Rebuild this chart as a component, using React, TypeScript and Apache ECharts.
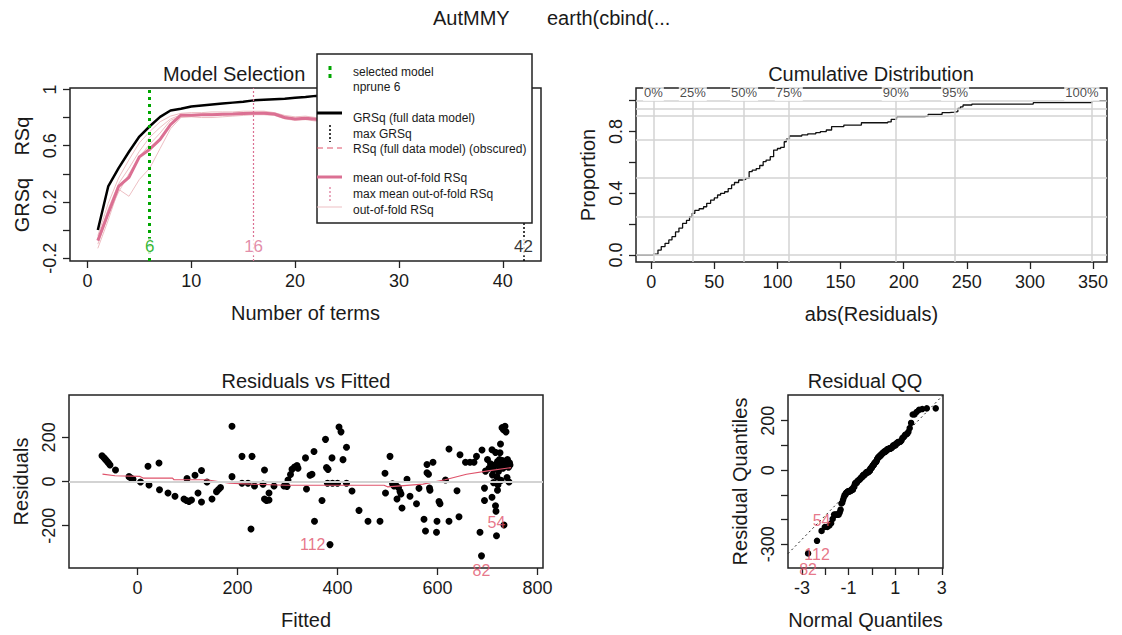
import React, { useEffect, useRef } from 'react';
import * as echarts from 'echarts';

// ---------- Panel 1: Model Selection ----------
const nTerms = [1,2,3,4,5,6,7,8,9,10,11,12,13,14,15,16,17,18,19,20,21,22,23,24,25,26,27,28,29,30,31,32,33,34,35,36,37,38,39,40,41,42];
const grsq = [0.0,0.31,0.44,0.557,0.665,0.738,0.805,0.85,0.862,0.878,0.885,0.892,0.899,0.906,0.913,0.922,0.926,0.93,0.934,0.94,0.946,0.954,0.957,0.959,0.961,0.962,0.963,0.964,0.965,0.966,0.967,0.968,0.969,0.97,0.971,0.972,0.973,0.974,0.975,0.976,0.977,0.978];
const meanOofRsq = [-0.075,0.12,0.31,0.375,0.52,0.575,0.645,0.75,0.817,0.817,0.82,0.82,0.823,0.825,0.828,0.83,0.83,0.825,0.8,0.79,0.795,0.787,0.785,0.782,0.78,0.778,0.776,0.775,0.773,0.772,0.77,0.768,0.766,0.765,0.763,0.762,0.76,0.758,0.757,0.755,0.754,0.752];
const foldA = [-0.13,0.07,0.29,0.24,0.36,0.44,0.58,0.72,0.8,0.805,0.8,0.8,0.805,0.81,0.815,0.82,0.82,0.815,0.79,0.78,0.785,0.775,0.77,0.77];
const foldB = [-0.04,0.19,0.37,0.5,0.62,0.7,0.77,0.81,0.83,0.835,0.835,0.84,0.84,0.84,0.845,0.845,0.845,0.835,0.815,0.805,0.81,0.8,0.795,0.79];
const foldC = [-0.1,0.11,0.27,0.4,0.52,0.61,0.69,0.78,0.81,0.81,0.815,0.815,0.82,0.82,0.825,0.825,0.825,0.82,0.8,0.79,0.79,0.785,0.78,0.78];
const foldD = [-0.07,0.15,0.33,0.44,0.56,0.66,0.73,0.79,0.82,0.82,0.825,0.83,0.83,0.83,0.835,0.835,0.84,0.83,0.805,0.795,0.8,0.795,0.79,0.785];
const selectedTerms = 6;
const maxOofTerms = 16;
const maxGrsqTerms = 42;
const vLabelY = -0.12;

// ---------- Panel 2: Cumulative Distribution ----------
const cdfX = [1.8,5.4,8,11,14,16.5,19.3,22,24.9,28,30.4,32.5,34.6,38,41.5,44,47.1,50,52.6,55,58.2,61,63.7,66,69.3,72,74.9,77.6,80,83.2,86,88.7,91,94.3,97,100,102.6,105.4,107,109.5,119.3,124,130.4,134,138.7,142.9,152.6,166.5,187.4,190.1,194.3,216.5,219.3,230.4,236,240.2,242.9,245,247,254,302.6,349];
const cdfY = [0.006,0.032,0.055,0.076,0.098,0.119,0.15,0.175,0.205,0.225,0.248,0.27,0.29,0.3,0.313,0.335,0.356,0.37,0.389,0.4,0.41,0.43,0.454,0.47,0.486,0.49,0.497,0.54,0.55,0.56,0.58,0.605,0.615,0.637,0.68,0.69,0.698,0.734,0.75,0.771,0.778,0.785,0.793,0.8,0.81,0.832,0.842,0.857,0.862,0.879,0.896,0.9,0.911,0.922,0.926,0.929,0.95,0.96,0.972,0.978,0.987,1.0];
const qPct = ['0%','25%','50%','75%','90%','95%','100%'];
const qVal = [1.8,33,73.6,109,193.7,240.7,349];
const qProb = [0,0.25,0.5,0.75,0.9,0.95,1];
const cdfXMin = -12;
const cdfXMax = 361;
const qLabelY = 1.053;

// ---------- Panel 3: Residuals vs Fitted ----------
const fittedVals = [-71,-67,-64,-61,-58,-55,-44,-17,-13,-9,6,21,23,43,44,61,75,93,98,103,108,99,115,121,128,128,139,149,158,162,166,189,189,209,209,221,227,229,234,251,254,254,258,263,263,273,293,299,301,306,309,314,319,321,
336,338,345,349,353,354,369,376,378,381,380,390,400,385,389,403,407,411,418,418,429,443,461,485,495,496,505,510,513,516,519,522,525,527,529,539,545,558,563,573,576,579,579,582,584,585,591,599,598,603,605,616,623,623,639,643,645,656,665,673,678,
685,688,689,694,696,694,700,703,706,709,709,710,712,714,716,716,717,718,719,720,721,722,723,724,725,726,727,728,729,730,731,732,733,734,735,736,737,738,739,740,741,742,743,744,745,712,720];
const residVals = [117,108,100,92,84,75,52,22,16,10,-2,69,-16,84,-37,-52,-67,-79,-86,-90,-84,13,28,-52,50,-93,-2,-79,-46,-36,-27,250,22,114,-8,-8,-215,114,-20,-12,52,-79,-86,-84,-52,-20,-20,-22,7,32,55,66,72,60,
107,-34,28,33,136,-180,-86,191,63,55,-8,-8,-8,-286,107,247,225,99,155,-8,-43,-131,-180,-180,37,-52,114,-10,-20,-14,-79,-27,-45,-57,-120,10,-67,-101,-31,-171,-224,77,40,33,-30,-40,87,-180,-230,-91,-101,7,147,-180,-42,-160,121,87,87,87,114,
-230,-337,143,-30,47,-86,100,60,80,144,-71,30,-5,75,132,-110,-135,-246,20,90,-15,45,70,100,130,170,5,85,244,95,60,235,-197,75,250,90,225,70,18,100,80,65,-2,85,75,55,-40];
const smoothX = [-70,-45,5,12,70,73,138,184,227,299,493,500,571,615,658,701,747];
const smoothY = [33,26,23,15,15,8,8,-8,-12,-17,-17,-24,-12,8,33,48,63];
const labelIds = ['112','54','82'];
const labelFitted = [385,718,688];
const labelResid = [-286,-246,-337];

// ---------- Panel 4: Residual QQ ----------
const qqLineX = [-3.6,3.05];
const qqLineY = [-338,303];

const FONT = '"Liberation Sans", Arial, Helvetica, sans-serif';
const TXT = '#1a1a1a';
const GREEN = '#00A600';
const PVR = '#DB7093';
const RED = '#DF536B';
const FOLD = '#EDBFC3';

function qnorm(p: number): number {
  const a = [-3.969683028665376e+01,2.209460984245205e+02,-2.759285104469687e+02,1.383577518672690e+02,-3.066479806614716e+01,2.506628277459239e+00];
  const b = [-5.447609879822406e+01,1.615858368580409e+02,-1.556989798598866e+02,6.680131188771972e+01,-1.328068155288572e+01];
  const c = [-7.784894002430293e-03,-3.223964580411365e-01,-2.400758277161838e+00,-2.549732539343734e+00,4.374664141464968e+00,2.938163982698783e+00];
  const d = [7.784695709041462e-03,3.224671290700398e-01,2.445134137142996e+00,3.754408661907416e+00];
  const pl = 0.02425, ph = 1 - pl;
  if (p < pl) {
    const q = Math.sqrt(-2 * Math.log(p));
    return (((((c[0]*q+c[1])*q+c[2])*q+c[3])*q+c[4])*q+c[5]) / ((((d[0]*q+d[1])*q+d[2])*q+d[3])*q+1);
  }
  if (p <= ph) {
    const q = p - 0.5, r = q * q;
    return (((((a[0]*r+a[1])*r+a[2])*r+a[3])*r+a[4])*r+a[5])*q / (((((b[0]*r+b[1])*r+b[2])*r+b[3])*r+b[4])*r+1);
  }
  const q = Math.sqrt(-2 * Math.log(1 - p));
  return -(((((c[0]*q+c[1])*q+c[2])*q+c[3])*q+c[4])*q+c[5]) / ((((d[0]*q+d[1])*q+d[2])*q+d[3])*q+1);
}

function axis(grid: number, min: number, max: number, labels: number[], ticks: number[], name: string, gap: number, isY: boolean, fmt?: (v: number) => string) {
  return {
    type: 'value', gridIndex: grid, min, max, name, nameLocation: 'middle', nameGap: gap,
    nameTextStyle: { fontFamily: FONT, fontSize: 20, color: TXT },
    axisLine: { show: false, onZero: false },
    splitLine: { show: false },
    axisTick: { show: true, length: 7, customValues: ticks, lineStyle: { color: '#222', width: 1.3 } },
    axisLabel: {
      show: true, customValues: labels, margin: 11, fontFamily: FONT, fontSize: 18, color: TXT,
      rotate: isY ? 90 : 0, formatter: fmt ? fmt : (v: number) => String(v),
    },
  };
}

function labelSeries(idx: number, data: any[], color: string, fontSize: number, extra: any = {}) {
  return {
    type: 'scatter', xAxisIndex: idx, yAxisIndex: idx, symbol: 'circle', symbolSize: 1, silent: true, z: 5,
    itemStyle: { color: 'rgba(0,0,0,0)' },
    data,
    label: { show: true, position: 'inside', formatter: (p: any) => p.name, color, fontSize, fontFamily: FONT, ...extra },
  };
}

function gText(text: string, x: number, y: number, size: number, align = 'left', color = TXT) {
  return {
    type: 'text', z: 100,
    style: { text, x, y, fill: color, font: `${size}px ${FONT}`, textAlign: align, textVerticalAlign: 'middle', align, verticalAlign: 'middle' },
  };
}
function gLine(x1: number, y1: number, x2: number, y2: number, stroke: string, lineWidth: number, lineDash?: number[]) {
  return { type: 'line', z: 100, shape: { x1, y1, x2, y2 }, style: { stroke, lineWidth, lineDash: lineDash || null } };
}

function buildOption() {
  const sorted = [...residVals].sort((a, b) => a - b);
  const n = sorted.length;
  const qqData = sorted.map((r, i) => [qnorm((i + 0.5) / n), r]);
  const qqOf = (r: number) => qnorm((sorted.indexOf(r) + 0.5) / n);

  const foldSeries = [foldA, foldB, foldC, foldD].map((f) => ({
    type: 'line', xAxisIndex: 0, yAxisIndex: 0, symbol: 'none', silent: true, z: 2,
    data: f.map((v, i) => [nTerms[i], v]), lineStyle: { color: FOLD, width: 1 },
  }));

  const resPos = ['left', 'top', 'bottom'];
  const resDist = [4, 5, 6];
  const qqPos = ['bottom', 'top', 'bottom'];
  const qqDist = [5, 2, 8];

  const legendEls = [
    { type: 'rect', z: 100, shape: { x: 317, y: 54, width: 215, height: 169 }, style: { fill: '#fff', stroke: '#222', lineWidth: 1.5 } },
    gLine(330, 66, 330, 81, GREEN, 3, [4, 4]),
    gText('selected model', 353, 72, 12),
    gText('nprune 6', 353, 87, 12),
    gLine(317, 113, 342, 113, '#000', 3),
    gText('GRSq (full data model)', 353, 118, 12),
    gLine(330, 125, 330, 142, '#000', 1.5, [2, 2]),
    gText('max GRSq', 353, 134, 12),
    gLine(317, 148, 342, 148, RED, 1.2, [6, 4]),
    gText('RSq (full data model) (obscured)', 353, 149, 12),
    gLine(317, 177, 342, 177, PVR, 3),
    gText('mean out-of-fold RSq', 353, 178, 12),
    gLine(330, 187, 330, 203, PVR, 1.2, [2, 2]),
    gText('max mean out-of-fold RSq', 353, 194, 12),
    gLine(317, 207, 342, 207, FOLD, 1),
    gText('out-of-fold RSq', 353, 210, 12),
  ];

  return {
    animation: false,
    backgroundColor: '#fff',
    grid: [
      { left: 70, top: 88, width: 471, height: 173, show: true, borderColor: '#222', borderWidth: 1.5, backgroundColor: 'transparent' },
      { left: 636, top: 88, width: 471, height: 174, show: true, borderColor: '#222', borderWidth: 1.5, backgroundColor: 'transparent' },
      { left: 69, top: 395, width: 474, height: 173, show: true, borderColor: '#222', borderWidth: 1.5, backgroundColor: 'transparent' },
      { left: 788, top: 395, width: 155, height: 173, show: true, borderColor: '#222', borderWidth: 1.5, backgroundColor: 'transparent' },
    ],
    xAxis: [
      axis(0, -1.68, 43.68, [0, 10, 20, 30, 40], [0, 10, 20, 30, 40], 'Number of terms', 42, false),
      axis(1, cdfXMin, cdfXMax, [0, 50, 100, 150, 200, 250, 300, 350], [0, 50, 100, 150, 200, 250, 300, 350], 'abs(Residuals)', 42, false),
      axis(2, -137, 811, [0, 200, 400, 600, 800], [0, 200, 400, 600, 800], 'Fitted', 42, false),
      axis(3, -3.6, 3.05, [-3, -1, 1, 3], [-3, -2, -1, 0, 1, 2, 3], 'Normal Quantiles', 42, false),
    ],
    yAxis: [
      axis(0, -0.22, 1.01, [-0.2, 0.2, 0.6, 1], [-0.2, 0, 0.2, 0.4, 0.6, 0.8, 1], 'GRSq\u00A0\u00A0\u00A0\u00A0RSq', 38, true),
      axis(1, -0.045, 1.082, [0, 0.4, 0.8], [0, 0.2, 0.4, 0.6, 0.8, 1], 'Proportion', 38, true, (v: number) => v.toFixed(1)),
      axis(2, -392, 392, [-200, 0, 200], [-200, 0, 200], 'Residuals', 38, true),
      axis(3, -396, 304, [-300, 0, 200], [-300, -200, -100, 0, 100, 200], 'Residual Quantiles', 38, true),
    ],
    series: [
      ...foldSeries,
      {
        type: 'line', xAxisIndex: 0, yAxisIndex: 0, symbol: 'none', silent: true, z: 3,
        data: meanOofRsq.map((v, i) => [nTerms[i], v]), lineStyle: { color: PVR, width: 3 },
      },
      {
        type: 'line', xAxisIndex: 0, yAxisIndex: 0, symbol: 'none', silent: true, z: 3,
        data: grsq.map((v, i) => [nTerms[i], v]), lineStyle: { color: '#000', width: 2.5 },
      },
      {
        type: 'line', xAxisIndex: 0, yAxisIndex: 0, data: [], z: 4,
        markLine: {
          silent: true, symbol: ['none', 'none'], label: { show: false }, animation: false,
          data: [
            { xAxis: selectedTerms, lineStyle: { color: GREEN, width: 3, type: [3, 4] } },
            { xAxis: maxOofTerms, lineStyle: { color: PVR, width: 1.2, type: [2, 2] } },
            { xAxis: maxGrsqTerms, lineStyle: { color: '#000', width: 1.5, type: [2, 2] } },
          ],
        },
      },
      labelSeries(0, [
        { name: String(selectedTerms), value: [selectedTerms, vLabelY], label: { color: GREEN } },
        { name: String(maxOofTerms), value: [maxOofTerms, vLabelY], label: { color: PVR } },
        { name: String(maxGrsqTerms), value: [maxGrsqTerms, vLabelY], label: { color: '#000' } },
      ], TXT, 17, { backgroundColor: '#fff', padding: [0, 1] }),

      // Panel 2
      {
        type: 'line', xAxisIndex: 1, yAxisIndex: 1, data: [], z: 1,
        markLine: {
          silent: true, symbol: ['none', 'none'], label: { show: false }, animation: false,
          lineStyle: { color: '#D3D3D3', width: 1.5, type: 'solid' },
          data: [...qVal.map((v) => ({ xAxis: v })), ...qProb.map((v) => ({ yAxis: v }))],
        },
      },
      {
        type: 'line', xAxisIndex: 1, yAxisIndex: 1, symbol: 'none', step: 'end', silent: true, z: 3,
        data: [[cdfXMin, 0], ...cdfX.map((x, i) => [x, cdfY[i]]), [cdfXMax, 1]],
        lineStyle: { color: '#111', width: 1.3 },
      },
      labelSeries(1, qPct.map((p, i) => ({
        name: p, value: [qVal[i], qLabelY],
        label: i === qPct.length - 1 ? { offset: [-10, 0] } : {},
      })), TXT, 13, { backgroundColor: '#fff', padding: [6, 1, 0, 1], lineHeight: 11 }),

      // Panel 3
      {
        type: 'line', xAxisIndex: 2, yAxisIndex: 2, data: [], z: 1,
        markLine: {
          silent: true, symbol: ['none', 'none'], label: { show: false }, animation: false,
          lineStyle: { color: '#D3D3D3', width: 2, type: 'solid' },
          data: [{ yAxis: 0 }],
        },
      },
      {
        type: 'scatter', xAxisIndex: 2, yAxisIndex: 2, symbolSize: 7, silent: true, z: 3,
        itemStyle: { color: '#000', opacity: 1 },
        data: fittedVals.map((x, i) => [x, residVals[i]]),
      },
      {
        type: 'line', xAxisIndex: 2, yAxisIndex: 2, symbol: 'none', silent: true, z: 4,
        data: smoothX.map((x, i) => [x, smoothY[i]]), lineStyle: { color: RED, width: 1.2 },
      },
      labelSeries(2, labelIds.map((id, i) => ({
        name: id, value: [labelFitted[i], labelResid[i]],
        label: { position: resPos[i], distance: resDist[i] },
      })), RED, 16),

      // Panel 4
      {
        type: 'line', xAxisIndex: 3, yAxisIndex: 3, symbol: 'none', silent: true, z: 2,
        data: qqLineX.map((x, i) => [x, qqLineY[i]]), lineStyle: { color: '#222', width: 1, type: [2, 3] },
      },
      {
        type: 'scatter', xAxisIndex: 3, yAxisIndex: 3, symbolSize: 6.5, silent: true, z: 3,
        itemStyle: { color: '#000', opacity: 1 }, data: qqData,
      },
      labelSeries(3, labelIds.map((id, i) => ({
        name: id, value: [qqOf(labelResid[i]), labelResid[i]],
        label: { position: qqPos[i], distance: qqDist[i] },
      })), RED, 16),
    ],
    graphic: [
      gText('AutMMY', 433, 18, 20),
      gText('earth(cbind(...', 547, 18, 20),
      gText('Model Selection', 163, 74, 20),
      gText('Cumulative Distribution', 871, 74, 20, 'center'),
      gText('Residuals vs Fitted', 306, 381, 20, 'center'),
      gText('Residual QQ', 865, 381, 20, 'center'),
      ...legendEls,
    ],
  };
}

export default function App() {
  const ref = useRef<HTMLDivElement>(null);
  useEffect(() => {
    document.body.style.margin = '0';
    const chart = echarts.init(ref.current as HTMLDivElement, null, { renderer: 'svg' });
    chart.setOption(buildOption() as any);
    return () => chart.dispose();
  }, []);
  return <div ref={ref} style={{ position: 'fixed', left: 0, top: 0, width: 1122, height: 635, background: '#fff' }} />;
}
